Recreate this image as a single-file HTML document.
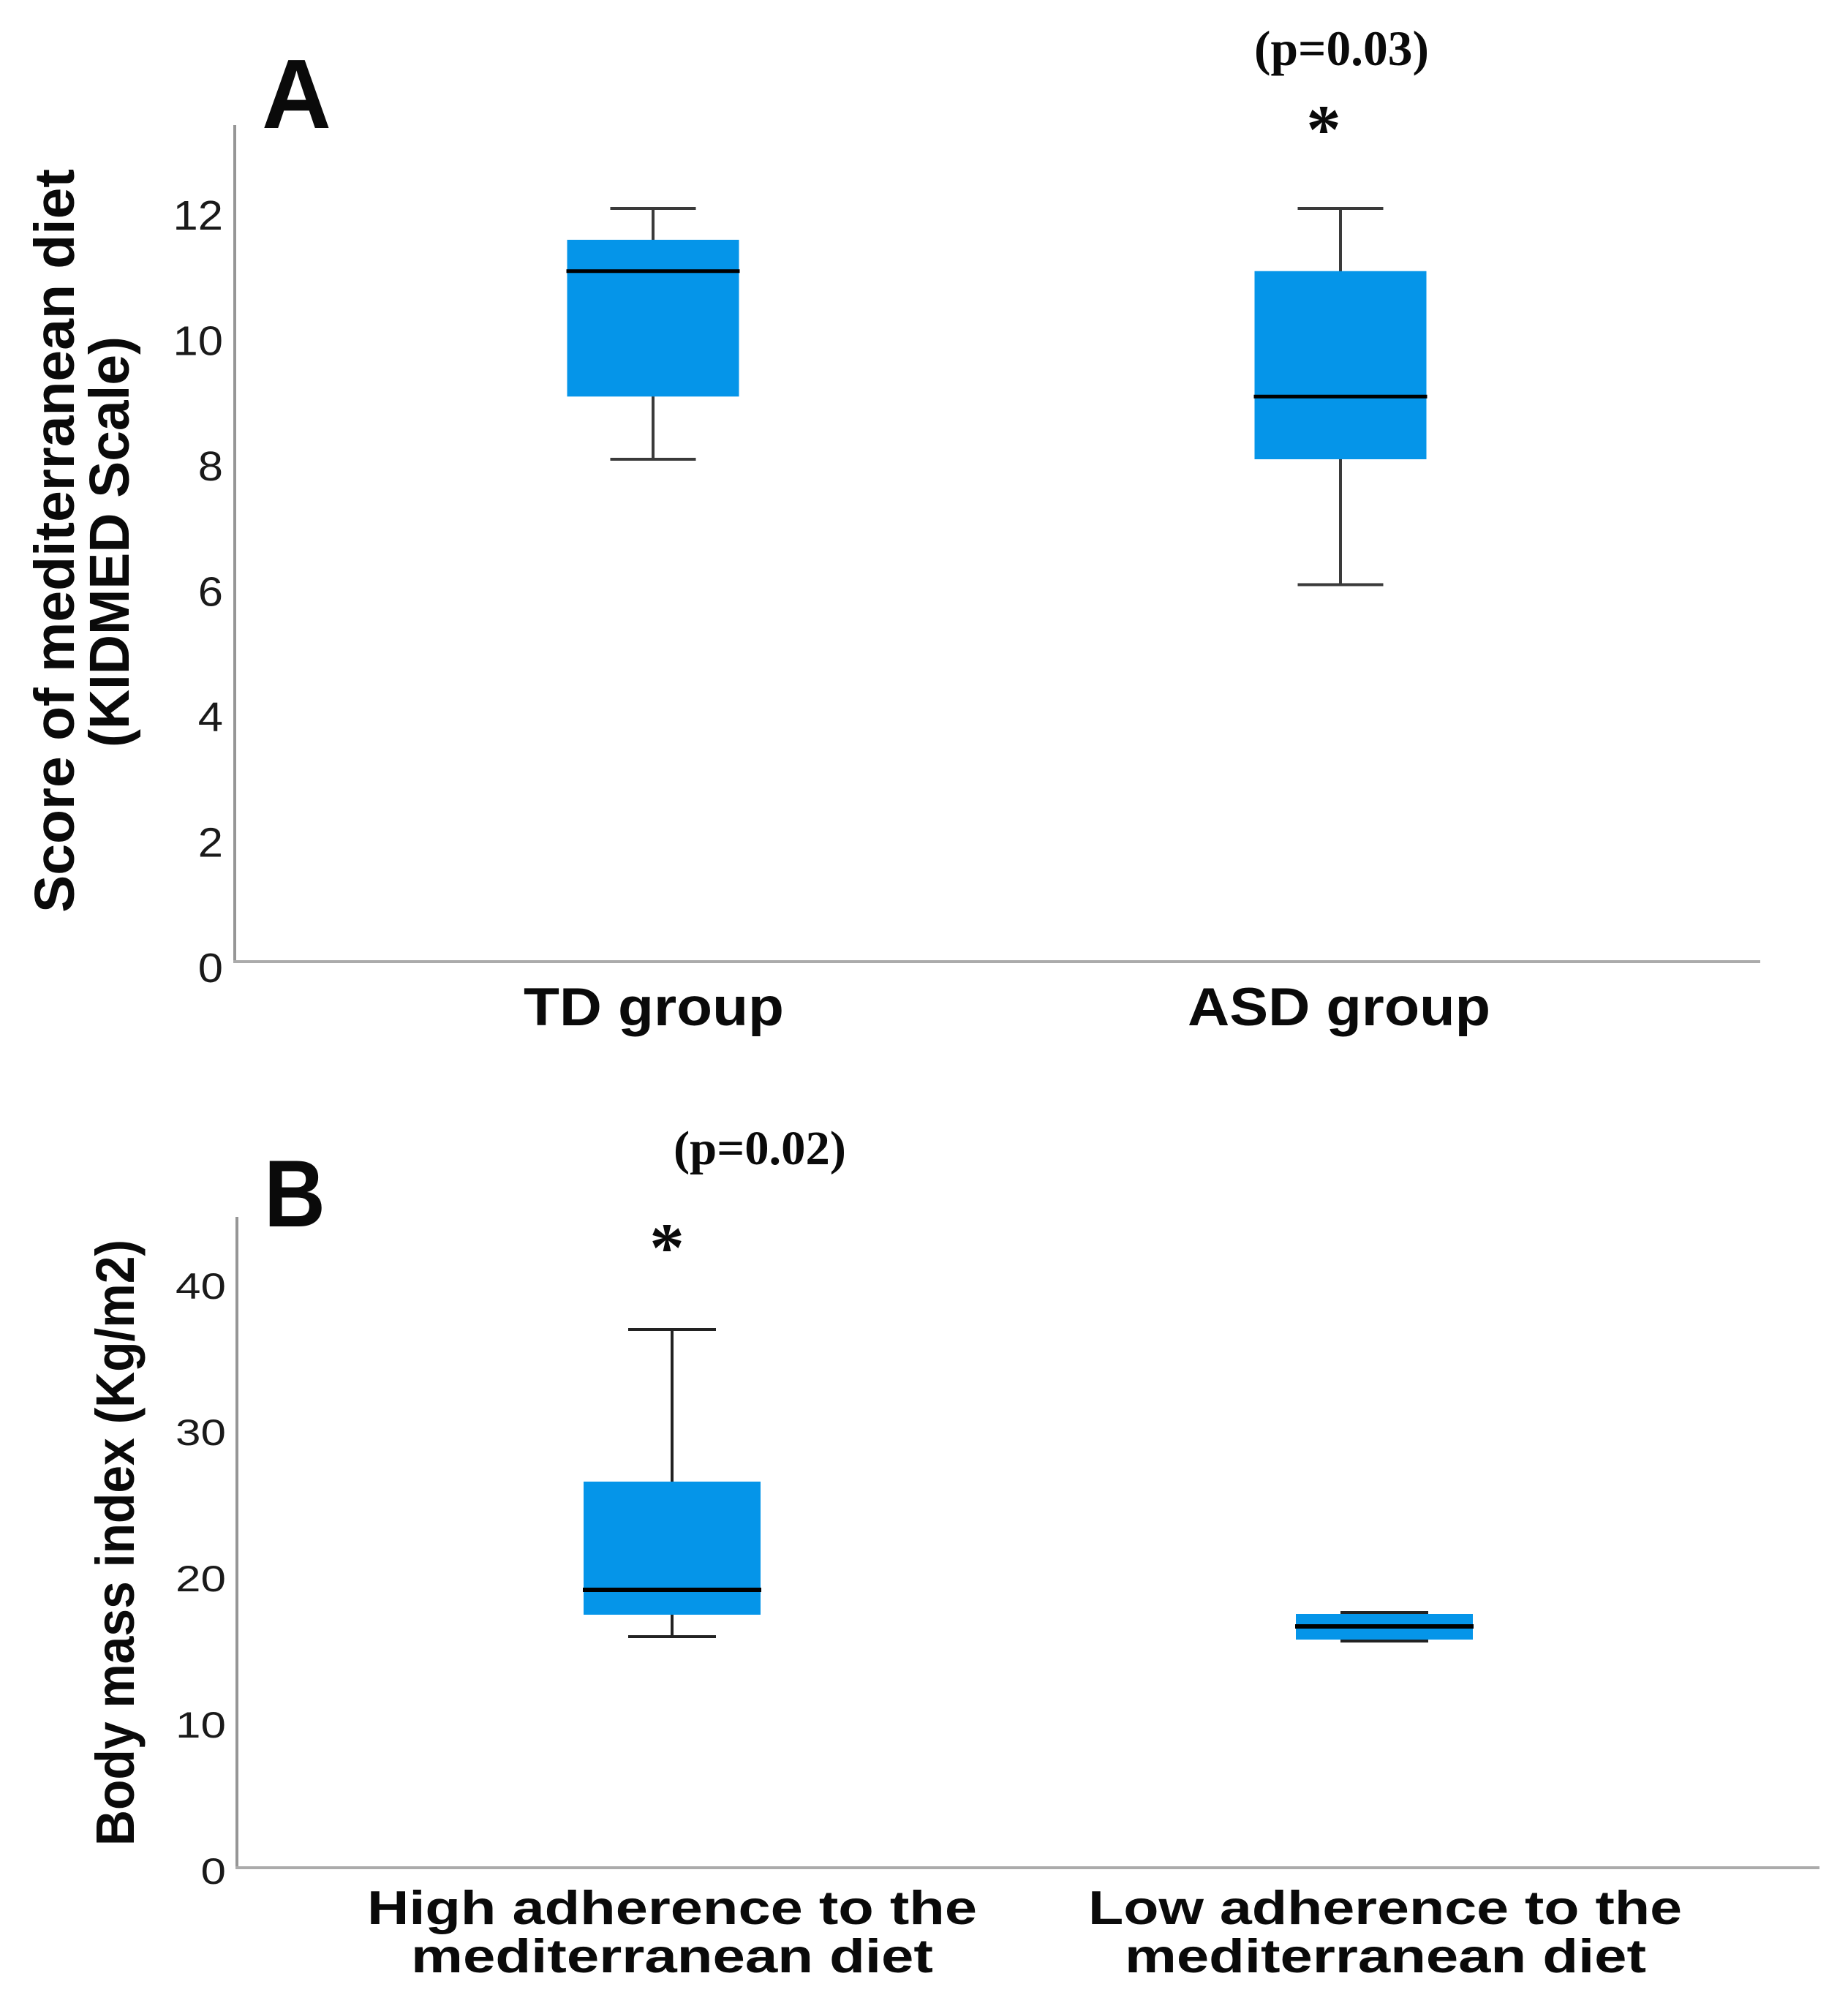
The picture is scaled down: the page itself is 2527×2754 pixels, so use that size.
<!DOCTYPE html>
<html lang="en">
<head>
<meta charset="utf-8">
<title>Mediterranean diet score and body mass index box plots</title>
<style>
html,body{margin:0;padding:0;background:#fff}
svg{display:block}
text{fill:#0a0a0a}
.sans{font-family:"Liberation Sans",sans-serif;font-weight:700}
.serif{font-family:"Liberation Serif",serif;font-weight:700}
.tick{font-family:"Liberation Sans",sans-serif;font-weight:400;fill:#1a1a1a}
</style>
</head>
<body>
<svg id="chart" xmlns="http://www.w3.org/2000/svg" width="2527" height="2754" viewBox="0 0 2527 2754">
  <rect x="0" y="0" width="2527" height="2754" fill="#ffffff"/>

  <g id="panelA">
    <line x1="321" y1="171" x2="321" y2="1316" stroke="#969696" stroke-width="4"/>
    <line x1="319" y1="1315" x2="2407" y2="1315" stroke="#ababab" stroke-width="4"/>
    <text class="sans" x="358" y="175" font-size="135" textLength="95" lengthAdjust="spacingAndGlyphs">A</text>
    <text class="sans" font-size="77" transform="translate(101,1248) rotate(-90)" textLength="1017" lengthAdjust="spacingAndGlyphs">Score of mediterranean diet</text>
    <text class="sans" font-size="77" transform="translate(176,1022) rotate(-90)" textLength="562" lengthAdjust="spacingAndGlyphs">(KIDMED Scale)</text>
    <text class="sans" x="716" y="1402" font-size="73" textLength="356" lengthAdjust="spacingAndGlyphs">TD group</text>
    <text class="sans" x="1624" y="1402" font-size="73" textLength="414" lengthAdjust="spacingAndGlyphs">ASD group</text>
    <text class="serif" x="1715" y="89" font-size="68" textLength="239" lengthAdjust="spacingAndGlyphs">(p=0.03)</text>
    <text class="serif" x="1810" y="209" font-size="95" text-anchor="middle">*</text>
  </g>

  <g id="panelB">
    <line x1="324" y1="1664" x2="324" y2="2555" stroke="#969696" stroke-width="4"/>
    <line x1="322" y1="2554" x2="2488" y2="2554" stroke="#ababab" stroke-width="4"/>
    <text class="sans" x="361" y="1677" font-size="130" textLength="84" lengthAdjust="spacingAndGlyphs">B</text>
    <text class="sans" font-size="74" transform="translate(183,2524) rotate(-90)" textLength="829" lengthAdjust="spacingAndGlyphs">Body mass index (Kg/m2)</text>
    <text class="sans" x="502" y="2631" font-size="65" textLength="834" lengthAdjust="spacingAndGlyphs">High adherence to the</text>
    <text class="sans" x="562" y="2697" font-size="65" textLength="714" lengthAdjust="spacingAndGlyphs">mediterranean diet</text>
    <text class="sans" x="1488" y="2631" font-size="65" textLength="812" lengthAdjust="spacingAndGlyphs">Low adherence to the</text>
    <text class="sans" x="1538" y="2697" font-size="65" textLength="713" lengthAdjust="spacingAndGlyphs">mediterranean diet</text>
    <text class="serif" x="921" y="1592" font-size="66" textLength="236" lengthAdjust="spacingAndGlyphs">(p=0.02)</text>
    <text class="serif" x="912" y="1738" font-size="95" text-anchor="middle">*</text>
  </g>
</svg>

<script>
// Panel A data: KIDMED score
const ticksA = [0, 2, 4, 6, 8, 10, 12];
const groupsA = ['TD', 'ASD'];
const minA = [8, 6];
const q1A = [9, 8];
const medianA = [11, 9];
const q3A = [11.5, 11];
const maxA = [12, 12];

// Panel B data: body mass index
const ticksB = [0, 10, 20, 30, 40];
const groupsB = ['high', 'low'];
const minB = [15.8, 15.5];
const q1B = [17.3, 15.6];
const medianB = [19, 16.5];
const q3B = [26.4, 17.35];
const maxB = [36.8, 17.45];

const NS = 'http://www.w3.org/2000/svg';

function make(parent, tag, attrs) {
  const el = document.createElementNS(NS, tag);
  for (const k in attrs) el.setAttribute(k, attrs[k]);
  parent.appendChild(el);
  return el;
}

function drawTicks(parent, ticks, yScale, rightEdge, labelOffset, fontSize, stretch) {
  ticks.forEach(function (t) {
    const label = make(parent, 'text', {
      class: 'tick',
      'font-size': fontSize,
      'text-anchor': 'end',
      transform: 'translate(' + rightEdge + ',' + (yScale(t) + labelOffset) + ') scale(' + stretch + ',1)'
    });
    
    
    label.textContent = String(t);
  });
}

function drawBoxes(parent, groups, mins, q1s, medians, q3s, maxs, xScale, yScale, boxHalf, capHalf, whiskerColor, whiskerWidth, medianWidth) {
  groups.forEach(function (g, i) {
    const cx = xScale(i);

    const stem = make(parent, 'line', {
      x1: cx, x2: cx, y1: yScale(maxs[i]), y2: yScale(mins[i]),
      stroke: whiskerColor, 'stroke-width': whiskerWidth
    });
    
    

    const capTop = make(parent, 'line', {
      x1: cx - capHalf, x2: cx + capHalf, y1: yScale(maxs[i]), y2: yScale(maxs[i]),
      stroke: whiskerColor, 'stroke-width': whiskerWidth
    });
    
    

    const capBottom = make(parent, 'line', {
      x1: cx - capHalf, x2: cx + capHalf, y1: yScale(mins[i]), y2: yScale(mins[i]),
      stroke: whiskerColor, 'stroke-width': whiskerWidth
    });
    
    

    const box = make(parent, 'rect', {
      x: cx - boxHalf, width: boxHalf * 2,
      y: yScale(q3s[i]), height: yScale(q1s[i]) - yScale(q3s[i]),
      fill: '#0595e9'
    });
    
    

    const median = make(parent, 'line', {
      x1: cx - boxHalf - 1, x2: cx + boxHalf + 1, y1: yScale(medians[i]), y2: yScale(medians[i]),
      stroke: '#000000', 'stroke-width': medianWidth
    });
    
    
  });
}

const yA = function (v) { return 1314 - v * 85.75; };
const xA = function (i) { return 893 + i * 940; };
const yB = function (v) { return 2554 - v * 20; };
const xB = function (i) { return 919 + i * 974; };

const panelA = document.getElementById('panelA');
const panelB = document.getElementById('panelB');

drawTicks(panelA, ticksA, yA, 305, 29, 57, 1.08);
drawBoxes(panelA, groupsA, minA, q1A, medianA, q3A, maxA, xA, yA, 117.5, 58.5, '#3a3a3a', 4, 5);
drawTicks(panelB, ticksB, yB, 309, 22, 50, 1.24);
drawBoxes(panelB, groupsB, minB, q1B, medianB, q3B, maxB, xB, yB, 121, 60, '#222222', 4, 6);
</script>
</body>
</html>
